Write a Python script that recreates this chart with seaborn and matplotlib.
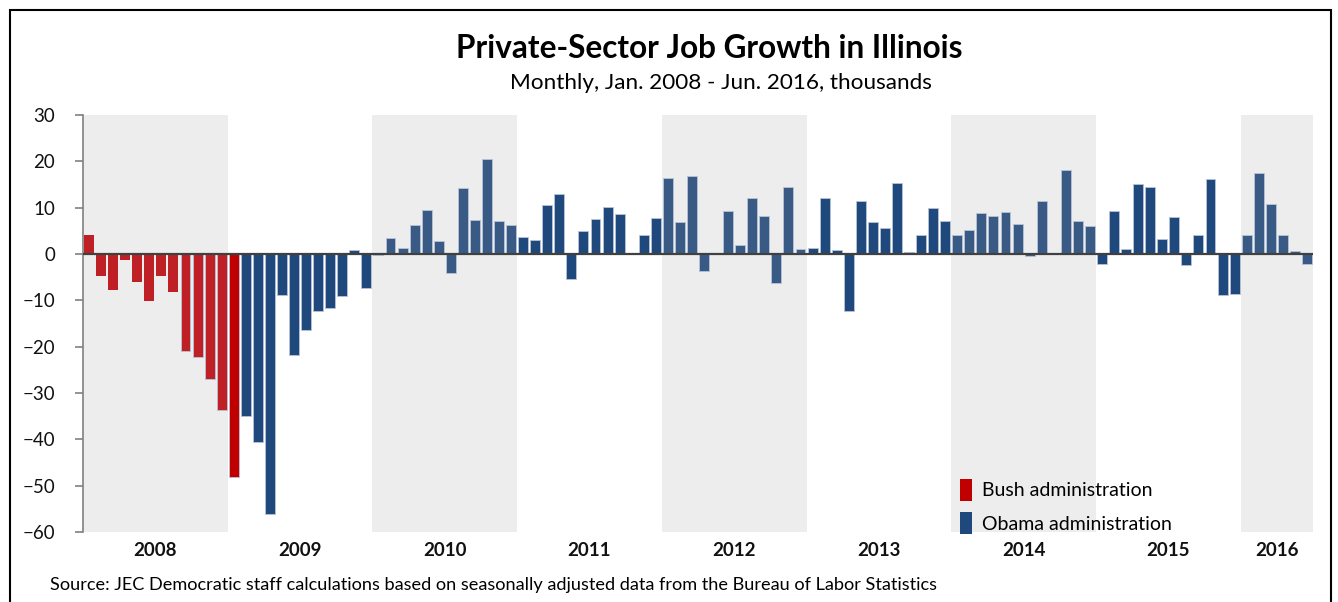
import numpy as np
import pandas as pd
import matplotlib
matplotlib.use("Agg")
import matplotlib.pyplot as plt
from matplotlib.patches import Patch, Rectangle
from matplotlib.transforms import blended_transform_factory
import seaborn as sns

# Monthly private-sector job change in Illinois, thousands (Jan 2008 - Jun 2016)
jobs_2008 = [4.1, -4.7, -7.8, -1.4, -6.0, -10.1, -4.7, -8.3, -20.9, -22.2, -26.9, -33.6]
jobs_2009 = [-48.1, -35.0, -40.5, -56.1, -8.8, -21.7, -16.5, -12.3, -11.6, -9.0, 0.9, -7.3]
jobs_2010 = [-0.2, 3.4, 1.3, 6.3, 9.6, 2.9, -4.0, 14.2, 7.3, 20.6, 7.1, 6.3]
jobs_2011 = [3.7, 3.1, 10.5, 12.9, -5.5, 4.9, 7.5, 10.2, 8.6, -0.1, 4.2, 7.7]
jobs_2012 = [16.5, 6.8, 16.8, -3.7, 0.1, 9.2, 1.9, 12.1, 8.3, -6.3, 14.4, 1.1]
jobs_2013 = [1.4, 12.1, 0.8, -12.2, 11.5, 7.0, 5.6, 15.3, 0.4, 4.0, 10.0, 7.1]
jobs_2014 = [4.2, 5.2, 8.9, 8.1, 9.0, 6.5, -0.5, 11.4, 0.1, 18.1, 7.1, 6.0]
jobs_2015 = [-2.2, 9.3, 1.0, 15.1, 14.4, 3.2, 7.9, -2.4, 4.0, 16.1, -8.9, -8.6]
jobs_2016 = [4.1, 17.4, 10.7, 4.2, 0.6, -2.2]

years = [2008, 2009, 2010, 2011, 2012, 2013, 2014, 2015, 2016]
year_labels = ["2008", "2009", "2010", "2011", "2012", "2013", "2014", "2015", "2016"]
bush_months = 13  # Jan 2008 through Jan 2009
legend_labels = ["Bush administration", "Obama administration"]

values = (jobs_2008 + jobs_2009 + jobs_2010 + jobs_2011 + jobs_2012 +
          jobs_2013 + jobs_2014 + jobs_2015 + jobs_2016)
n = len(values)
month_year = [years[i // 12] for i in range(n)]

# Colours: bars sitting on the grey bands are drawn a touch lighter
RED_BAND, RED = "#BE2026", "#C00000"
BLUE_BAND, BLUE = "#3A5A86", "#1F497D"
BAND = "#EDEDED"

colors = []
for i in range(n):
    shaded = (month_year[i] - 2008) % 2 == 0
    if i < bush_months:
        colors.append(RED_BAND if shaded else RED)
    else:
        colors.append(BLUE_BAND if shaded else BLUE)

df = pd.DataFrame({"month": [str(i) for i in range(n)], "jobs": values})

plt.rcParams["font.family"] = ["Lato", "DejaVu Sans"]
fig = plt.figure(figsize=(13.38, 6.02), dpi=100)
W, H = 1338, 602
ax = fig.add_axes([83 / W, 1 - 532 / H, (1313 - 83) / W, (532 - 115) / H])

# Alternating year bands
for k, yr in enumerate(years):
    if k % 2 == 0:
        start = k * 12 - 0.5
        end = min(start + 12, n - 0.5)
        ax.axvspan(start, end, color=BAND, lw=0, zorder=0)

sns.barplot(data=df, x="month", y="jobs", hue="month", palette=colors,
            saturation=1, legend=False, width=0.82, ax=ax, zorder=2, linewidth=0)

# Thin light outline on the Obama-era bars only
for i, bar in enumerate(ax.patches):
    if i >= bush_months:
        bar.set_edgecolor("#B8C4D6")
        bar.set_linewidth(0.6)

ax.axhline(0, color="#404040", lw=1.6, zorder=3)
ax.set_xlim(-0.5, n - 0.5)
ax.set_ylim(-60, 30)
ax.set_yticks(range(-60, 31, 10))
ax.set_xticks([])
ax.set_xlabel("")
ax.set_ylabel("")
for s in ["top", "right", "bottom"]:
    ax.spines[s].set_visible(False)
ax.spines["left"].set_color("#808080")
ax.spines["left"].set_linewidth(1.2)
ax.tick_params(axis="y", direction="out", length=6, width=1.2, color="#808080",
               labelsize=13.5, labelcolor="#111111", pad=14)
ax.set_facecolor("white")

# Year labels under each twelve-month group
trans = blended_transform_factory(ax.transData, fig.transFigure)
for k, lab in enumerate(year_labels):
    start = k * 12
    end = min(start + 12, n)
    ax.text((start + end - 1) / 2, 1 - 551 / H, lab, transform=trans,
            ha="center", va="center", fontsize=13.5, fontweight="bold",
            color="#111111")

handles = [Patch(facecolor=RED, edgecolor="none"),
           Patch(facecolor=BLUE, edgecolor="none")]
ax.legend(handles, legend_labels, loc="lower left", bbox_to_anchor=(0.707, -0.024),
          frameon=False, fontsize=14, handlelength=0.6, handleheight=1.35,
          handletextpad=0.5, labelspacing=0.6, borderaxespad=0.0)

fig.text(709 / W, 1 - 48 / H, "Private-Sector Job Growth in Illinois",
         ha="center", va="center", fontsize=22.7, fontweight="bold", color="#000000")
fig.text(721 / W, 1 - 83 / H, "Monthly, Jan. 2008 - Jun. 2016, thousands",
         ha="center", va="center", fontsize=16.2, color="#000000")
fig.text(50 / W, 1 - 585 / H,
         "Source: JEC Democratic staff calculations based on seasonally adjusted data from the Bureau of Labor Statistics",
         ha="left", va="center", fontsize=13.1, color="#000000")

# Outer frame
fig.patches.append(Rectangle((10 / W, -0.01), (1331 - 10) / W, 1.01 - 10 / H,
                             transform=fig.transFigure, fill=False,
                             edgecolor="#000000", lw=1.5))

fig.savefig("out.png", dpi=100, facecolor="white")
